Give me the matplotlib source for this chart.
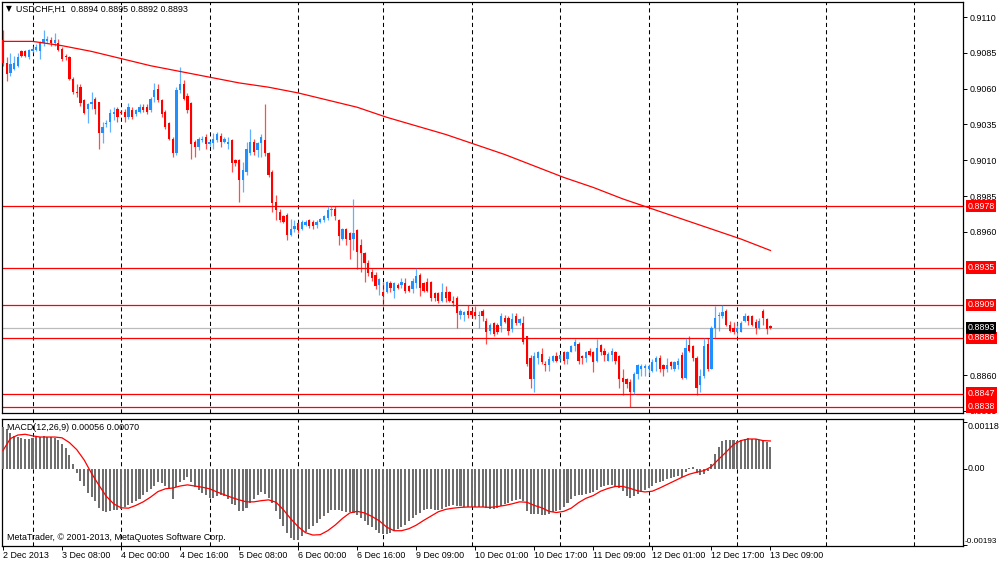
import numpy as np
import matplotlib
matplotlib.use("Agg")
import matplotlib.pyplot as plt
import matplotlib.transforms as mtransforms

plt.rcParams['font.family'] = ['Liberation Sans', 'DejaVu Sans']

# ---------------- data (prices in 1/10000, MACD in 1e-5) ----------------
header_text = "USDCHF,H1  0.8894 0.8895 0.8892 0.8893"
macd_text = "MACD(12,26,9) 0.00056 0.00070"
copyright_text = "MetaTrader, \u00a9 2001-2013, MetaQuotes Software Corp."

time_labels = ["2 Dec 2013", "3 Dec 08:00", "4 Dec 00:00", "4 Dec 16:00", "5 Dec 08:00",
               "6 Dec 00:00", "6 Dec 16:00", "9 Dec 09:00", "10 Dec 01:00", "10 Dec 17:00",
               "11 Dec 09:00", "12 Dec 01:00", "12 Dec 17:00", "13 Dec 09:00"]
time_label_bars = [0, 16, 32, 48, 64, 80, 96, 112, 128, 144, 160, 176, 192, 208]
day_start_bars = [8, 32, 56, 80, 103, 127, 151, 175, 199, 223, 247]

opens = [9094,9078,9071,9074,9076,9086,9086,9082,9086,9087,
         9086,9092,9093,9094,9092,9092,9088,9083,9082,9067,
         9058,9061,9052,9046,9049,9053,9051,9029,9035,9037,
         9042,9046,9044,9044,9040,9045,9042,9044,9047,9047,
         9045,9054,9060,9052,9044,9036,9025,9015,9059,9063,
         9055,9050,9023,9019,9024,9026,9021,9022,9024,9027,
         9023,9021,9024,9010,9010,8996,9002,9015,9023,9017,
         9022,9024,9015,9002,8981,8974,8971,8972,8958,8962,
         8966,8962,8965,8968,8967,8965,8967,8968,8970,8975,
         8976,8968,8955,8962,8959,8955,8961,8951,8945,8938,
         8932,8930,8923,8918,8918,8924,8919,8923,8923,8924,
         8922,8920,8924,8930,8924,8925,8925,8917,8917,8912,
         8918,8918,8912,8914,8902,8902,8905,8905,8904,8901,
         8905,8898,8891,8896,8895,8894,8900,8900,8892,8901,
         8896,8896,8887,8872,8857,8872,8875,8868,8867,8870,
         8873,8871,8876,8871,8876,8880,8882,8873,8872,8877,
         8876,8870,8881,8877,8870,8874,8876,8873,8858,8857,
         8855,8848,8861,8864,8865,8864,8863,8869,8872,8867,
         8864,8869,8864,8867,8874,8858,8881,8880,8872,8853,
         8859,8882,8864,8893,8901,8901,8905,8895,8893,8890,
         8890,8898,8901,8901,8897,8893,8905,8899,8894]
highs = [9101,9082,9085,9083,9085,9087,9087,9088,9090,9091,
         9093,9101,9097,9096,9099,9095,9089,9084,9083,9068,
         9063,9063,9053,9050,9058,9054,9051,9037,9038,9046,
         9047,9047,9045,9046,9050,9047,9046,9049,9049,9049,
         9054,9064,9063,9053,9045,9037,9026,9061,9075,9066,
         9057,9051,9024,9026,9027,9028,9024,9029,9030,9029,
         9026,9026,9025,9011,9011,9009,9023,9032,9025,9023,
         9028,9049,9016,9003,8986,8976,8972,8973,8969,8968,
         8967,8968,8968,8969,8968,8968,8970,8972,8978,8978,
         8978,8969,8963,8963,8960,8983,8962,8955,8946,8940,
         8934,8932,8928,8925,8926,8926,8925,8924,8928,8928,
         8923,8928,8935,8931,8925,8928,8926,8918,8918,8924,
         8922,8919,8915,8915,8906,8905,8909,8907,8908,8905,
         8906,8900,8896,8897,8896,8903,8902,8901,8903,8903,
         8900,8901,8887,8874,8876,8877,8879,8870,8873,8874,
         8876,8875,8877,8877,8881,8885,8883,8874,8877,8879,
         8877,8885,8882,8879,8876,8879,8877,8874,8864,8858,
         8857,8862,8868,8868,8868,8868,8871,8873,8874,8868,
         8872,8870,8870,8872,8876,8886,8887,8881,8873,8864,
         8886,8886,8894,8908,8904,8909,8906,8898,8897,8897,
         8898,8903,8902,8902,8899,8900,8906,8900,8895]
lows = [9076,9065,9069,9073,9075,9082,9082,9081,9085,9086,
        9081,9090,9092,9090,9090,9086,9079,9080,9066,9056,
        9054,9048,9042,9036,9046,9042,9018,9022,9033,9030,
        9038,9037,9042,9037,9039,9039,9041,9043,9044,9042,
        9044,9051,9051,9040,9032,9024,9012,9014,9057,9052,
        9043,9011,9012,9017,9023,9018,9020,9018,9023,9019,
        9022,9018,9002,9006,8981,8988,9000,9014,9014,9012,
        9012,9013,8998,8974,8968,8967,8966,8954,8957,8960,
        8959,8961,8964,8963,8962,8963,8966,8967,8968,8971,
        8968,8951,8954,8951,8941,8947,8934,8932,8925,8929,
        8926,8920,8916,8908,8917,8918,8914,8920,8921,8917,
        8918,8917,8921,8915,8918,8918,8912,8912,8910,8911,
        8911,8911,8908,8893,8899,8898,8900,8900,8899,8893,
        8898,8882,8889,8887,8889,8890,8896,8888,8890,8895,
        8895,8882,8866,8851,8848,8868,8868,8863,8863,8869,
        8869,8870,8868,8868,8876,8877,8868,8868,8869,8873,
        8862,8869,8874,8870,8870,8870,8868,8851,8846,8851,
        8838,8847,8857,8859,8859,8859,8862,8863,8862,8859,
        8862,8864,8863,8864,8857,8857,8876,8870,8846,8848,
        8858,8863,8864,8886,8891,8900,8894,8890,8889,8887,
        8890,8897,8895,8894,8889,8892,8895,8889,8892]
closes = [9078,9070,9077,9078,9082,9083,9083,9087,9088,9089,
          9092,9095,9095,9092,9094,9087,9081,9082,9067,9058,
          9057,9050,9043,9049,9051,9046,9029,9033,9036,9043,
          9044,9040,9043,9040,9047,9040,9045,9047,9045,9044,
          9053,9059,9052,9042,9033,9025,9015,9059,9063,9053,
          9045,9021,9019,9025,9025,9021,9023,9025,9028,9023,
          9025,9023,9008,9008,8996,9003,9018,9023,9016,9022,
          9026,9015,9000,8980,8975,8968,8967,8958,8962,8964,
          8961,8967,8967,8964,8964,8967,8969,8971,8975,8976,
          8971,8957,8962,8955,8954,8959,8946,8945,8938,8931,
          8928,8922,8927,8915,8925,8921,8924,8921,8925,8919,
          8919,8926,8929,8921,8919,8919,8914,8914,8912,8918,
          8914,8912,8910,8903,8905,8904,8902,8902,8901,8902,
          8901,8890,8895,8889,8890,8901,8897,8891,8899,8896,
          8899,8883,8868,8857,8873,8876,8869,8867,8871,8873,
          8870,8874,8870,8876,8880,8883,8870,8872,8876,8874,
          8869,8879,8876,8874,8875,8877,8870,8857,8855,8854,
          8848,8861,8867,8866,8866,8866,8869,8872,8864,8864,
          8867,8866,8869,8870,8858,8879,8877,8872,8851,8859,
          8880,8864,8893,8900,8902,8904,8895,8891,8890,8893,
          8896,8901,8898,8895,8893,8898,8900,8892,8893]

ma_bars = list(range(0, 209, 8))
ma_values = [9093, 9093, 9090, 9086, 9081, 9076, 9072, 9068, 9064, 9061,
             9057, 9052, 9047, 9040, 9034, 9028, 9021, 9014, 9006, 8998,
             8991, 8983, 8976, 8969, 8962, 8955, 8947]

level_prices = [0.8978, 0.8935, 0.8909, 0.8886, 0.8847, 0.8838]
bid_price = 0.8893
price_ticks = [0.9110, 0.9085, 0.9060, 0.9035, 0.9010, 0.8985, 0.8960, 0.8860, 0.8835]

macd_main = [105,101,89,83,79,77,76,76,78,79,
             80,82,80,79,78,72,63,51,34,13,
             -10,-30,-44,-61,-72,-83,-99,-107,-110,-108,
             -105,-104,-101,-96,-92,-87,-83,-78,-67,-59,
             -52,-44,-35,-36,-44,-51,-78,-46,-35,-28,
             -22,-34,-46,-55,-61,-67,-73,-73,-70,-67,
             -70,-78,-89,-93,-106,-108,-99,-86,-78,-67,
             -59,-63,-73,-86,-108,-128,-145,-162,-175,-180,
             -181,-170,-160,-152,-145,-137,-128,-120,-111,-105,
             -104,-105,-108,-110,-110,-111,-116,-125,-133,-142,
             -148,-156,-163,-166,-166,-163,-158,-153,-148,-142,
             -133,-125,-118,-111,-105,-103,-103,-105,-104,-101,
             -97,-94,-93,-94,-95,-97,-97,-97,-97,-97,
             -98,-100,-101,-101,-99,-94,-89,-86,-83,-80,
             -78,-82,-108,-114,-114,-114,-116,-118,-114,-110,
             -108,-105,-97,-87,-78,-70,-66,-66,-63,-62,
             -60,-53,-47,-44,-42,-42,-46,-49,-57,-69,
             -74,-70,-64,-60,-55,-50,-43,-37,-33,-30,
             -26,-24,-21,-18,-20,-8,1,3,-10,-17,
             -13,-7,13,38,56,69,73,73,72,70,
             72,76,78,76,74,72,70,67,56]
signal_bars = list(range(0, 209, 2))
macd_signal = [46,76,85,87,83,80,80,80,78,66,
               48,22,-12,-42,-70,-89,-99,-100,-93,-84,
               -72,-58,-51,-49,-44,-41,-44,-47,-51,-59,
               -66,-73,-79,-84,-84,-81,-79,-85,-104,-127,
               -147,-162,-168,-167,-157,-143,-126,-112,-108,-112,
               -121,-132,-148,-157,-157,-152,-143,-131,-120,-109,
               -103,-100,-98,-97,-97,-97,-98,-96,-93,-89,
               -84,-85,-93,-99,-108,-111,-108,-100,-86,-75,
               -68,-57,-50,-45,-45,-50,-56,-59,-57,-49,
               -40,-31,-22,-14,-9,-5,5,24,42,61,
               71,75,75,71,70]
macd_ticks = [0.00118, 0.0, -0.00193]
macd_tick_labels = ["0.00118", "0.00", "-0.00193"]

# ---------------- conversions ----------------
o = np.array(opens) / 1e4
h = np.array(highs) / 1e4
l = np.array(lows) / 1e4
c = np.array(closes) / 1e4
ma = np.array(ma_values) / 1e4
mm = np.array(macd_main) * 1e-5
ms = np.array(macd_signal) * 1e-5
x = np.arange(len(o))

BLUE = '#1E90FF'
RED = '#FF0000'
FS = 6.4

W, H = 1000, 562
def px_axes(left, top, right, bottom):
    return [left / W, 1 - bottom / H, (right - left) / W, (bottom - top) / H]

fig = plt.figure(figsize=(10, 5.62), dpi=100)
fig.patch.set_facecolor('white')
ax = fig.add_axes(px_axes(2, 2, 963, 413))
axm = fig.add_axes(px_axes(2, 419, 963, 545.5))

XMIN, XMAX = -0.27, 260.2
for a in (ax, axm):
    a.set_xlim(XMIN, XMAX)
    for s in a.spines.values():
        s.set_linewidth(0.9)
        s.set_color('black')
    for b in day_start_bars:
        a.axvline(b, color='black', lw=0.75, linestyle=(0, (4, 3)), zorder=1)

# ---------------- main price panel ----------------
ax.set_ylim(0.88335, 0.91205)
for lv in level_prices:
    ax.axhline(lv, color=RED, lw=0.9, zorder=2)
ax.axhline(bid_price, color='#BBBBBB', lw=0.9, zorder=2)

ax.plot(ma_bars, ma, color=RED, lw=0.9, zorder=5)

up = c >= o
cols = np.where(up, BLUE, RED)
hi = np.maximum(h, np.maximum(o, c))
lo = np.minimum(l, np.minimum(o, c))
ax.vlines(x, lo, hi, colors=cols, lw=0.9, alpha=0.7, zorder=3)
body = np.maximum(np.abs(c - o), 0.000025)
ax.bar(x, body, bottom=np.minimum(o, c), width=0.62, color=cols, lw=0, zorder=4)

ax.yaxis.tick_right()
ax.set_yticks(price_ticks)
ax.set_yticklabels([f"{p:.4f}" for p in price_ticks])
ax.tick_params(axis='y', direction='out', length=3, width=0.7, labelsize=FS, pad=1.5)
ax.set_xticks([])

btr = mtransforms.blended_transform_factory(ax.transAxes, ax.transData)
for lv in level_prices:
    ax.text(1.0045, lv, f"{lv:.4f}", transform=btr, ha='left', va='center',
            color='white', fontsize=FS, clip_on=False, zorder=20,
            bbox=dict(boxstyle='square,pad=0.2', fc=RED, ec='none'))
ax.text(1.0045, bid_price, f"{bid_price:.4f}", transform=btr, ha='left', va='center',
        color='white', fontsize=FS, clip_on=False, zorder=20,
        bbox=dict(boxstyle='square,pad=0.2', fc='black', ec='none'))

fig.text(6 / W, 1 - 9 / H, "\u25bc", fontsize=5.5, ha='left', va='center',
         family=['DejaVu Sans'])
fig.text(16 / W, 1 - 9 / H, header_text, fontsize=FS, ha='left', va='center')

# ---------------- MACD panel ----------------
axm.set_ylim(-0.001944, 0.001256)
axm.bar(x, mm, width=0.55, color='#6E6E6E', lw=0, zorder=3)
axm.plot(signal_bars, ms, color=RED, lw=0.9, zorder=5)

axm.yaxis.tick_right()
axm.set_yticks(macd_ticks)
axm.set_yticklabels([""] * len(macd_ticks))
axm.tick_params(axis='y', direction='out', length=3, width=0.7)
mtr = mtransforms.blended_transform_factory(axm.transAxes, axm.transData)
vas = ['top', 'center', 'bottom']
xs = [1.005, 1.005, 1.0012]
sizes = [FS, FS, 5.9]
for val, lab, va, xx, fs in zip(macd_ticks, macd_tick_labels, vas, xs, sizes):
    axm.text(xx, val, lab, transform=mtr, ha='left', va=va, fontsize=fs,
             clip_on=False)

axm.set_xticks(time_label_bars)
axm.set_xticklabels(time_labels)
axm.tick_params(axis='x', direction='out', length=3, width=0.7, labelsize=FS, pad=1)
for t in axm.get_xticklabels():
    t.set_ha('left')

axm.text(5 / 961, 0.93, macd_text, transform=axm.transAxes, fontsize=FS,
         ha='left', va='center', zorder=10)
axm.text(5 / 961, 0.065, copyright_text, transform=axm.transAxes, fontsize=FS,
         ha='left', va='center', zorder=10)

fig.savefig('out.png', dpi=100, facecolor='white')
